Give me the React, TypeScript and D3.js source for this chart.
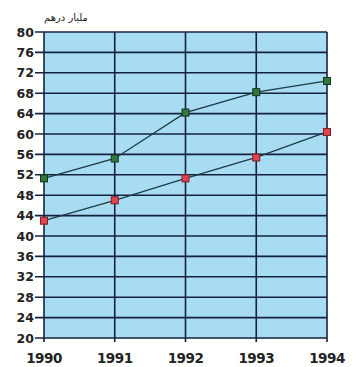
import React from "react";
import * as d3 from "d3";

const years = [1990, 1991, 1992, 1993, 1994];
const greenSeries = [51.3, 55.2, 64.2, 68.2, 70.4];
const redSeries = [43.0, 47.0, 51.3, 55.4, 60.4];
const yTicks = [20, 24, 28, 32, 36, 40, 44, 48, 52, 56, 60, 64, 68, 72, 76, 80];
const unitLabel = "مليار درهم";

const W = 354;
const H = 367;
const left = 44;
const right = 327;
const top = 32;
const bottom = 338;

export default function App() {
  const x = d3.scaleLinear().domain([1990, 1994]).range([left, right]);
  const y = d3.scaleLinear().domain([20, 80]).range([bottom, top]);
  const line = d3
    .line<number>()
    .x((_, i) => x(years[i]))
    .y((d) => y(d));
  const stroke = "#14233d";
  const font = "'DejaVu Sans', sans-serif";
  return (
    <svg
      width={W}
      height={H}
      style={{ position: "absolute", left: 0, top: 0, background: "#fff" }}
    >
      <rect x={left} y={top} width={right - left} height={bottom - top} fill="#a8dcf2" />
      {yTicks.map((t) => (
        <g key={t}>
          <line x1={left - 9} x2={right} y1={y(t)} y2={y(t)} stroke={stroke} strokeWidth={1.6} />
          <text
            x={left - 10}
            y={y(t)}
            dy="0.36em"
            textAnchor="end"
            fontFamily={font}
            fontWeight="bold"
            fontSize={12.5}
            fill="#222"
          >
            {t}
          </text>
        </g>
      ))}
      {years.map((yr) => (
        <g key={yr}>
          <line x1={x(yr)} x2={x(yr)} y1={top} y2={bottom + 4} stroke={stroke} strokeWidth={1.6} />
          <text
            x={x(yr)}
            y={363}
            textAnchor="middle"
            fontFamily={font}
            fontWeight="bold"
            fontSize={13.5}
            letterSpacing={-0.5}
            fill="#222"
          >
            {yr}
          </text>
        </g>
      ))}
      <path d={line(greenSeries) || ""} fill="none" stroke="#1d3a45" strokeWidth={1.3} />
      <path d={line(redSeries) || ""} fill="none" stroke="#1d3a45" strokeWidth={1.3} />
      {greenSeries.map((v, i) => (
        <rect
          key={"g" + i}
          x={x(years[i]) - 3.5}
          y={y(v) - 3.5}
          width={7}
          height={7}
          fill="#2f7a3a"
          stroke="#16321c"
          strokeWidth={1}
        />
      ))}
      {redSeries.map((v, i) => (
        <rect
          key={"r" + i}
          x={x(years[i]) - 3.5}
          y={y(v) - 3.5}
          width={7}
          height={7}
          fill="#e0454f"
          stroke="#7a1f24"
          strokeWidth={1}
        />
      ))}
      <text
        x={66}
        y={21}
        textAnchor="middle"
        fontFamily="'DejaVu Sans', sans-serif"
        fontSize={10}
        letterSpacing={1}
        fill="#222"
        direction="rtl"
      >
        {unitLabel}
      </text>
    </svg>
  );
}
